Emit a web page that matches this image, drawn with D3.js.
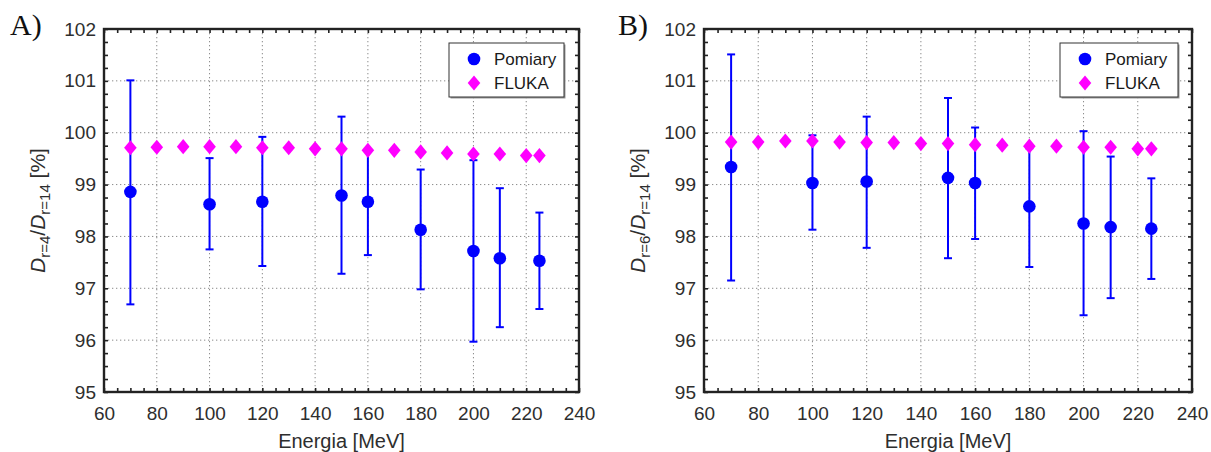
<!DOCTYPE html>
<html>
<head>
<meta charset="utf-8">
<script src="https://cdn.jsdelivr.net/npm/d3@7/dist/d3.min.js"></script>
<style>
  html, body { margin: 0; padding: 0; background: #fff; }
  svg { display: block; }
</style>
</head>
<body>
<svg id="chart" width="1211" height="452"></svg>
<script>
// ---------- data ----------
const energyMeas = [70, 100, 120, 150, 160, 180, 200, 210, 225];
const energyFluka = [70, 80, 90, 100, 110, 120, 130, 140, 150, 160, 170, 180, 190, 200, 210, 220, 225];

const measA    = [98.86, 98.62, 98.67, 98.79, 98.67, 98.13, 97.72, 97.58, 97.53];
const errLowA  = [96.69, 97.75, 97.43, 97.28, 97.64, 96.98, 95.97, 96.25, 96.60];
const errHighA = [101.01, 99.51, 99.92, 100.31, 99.66, 99.29, 99.47, 98.93, 98.46];
const flukaA   = [99.71, 99.72, 99.73, 99.73, 99.73, 99.71, 99.71, 99.69, 99.69, 99.66, 99.66, 99.63, 99.61, 99.59, 99.59, 99.56, 99.56];

const measB    = [99.34, 99.03, 99.06, 99.13, 99.03, 98.58, 98.25, 98.18, 98.15];
const errLowB  = [97.15, 98.13, 97.78, 97.58, 97.95, 97.41, 96.48, 96.81, 97.18];
const errHighB = [101.51, 99.95, 100.31, 100.67, 100.10, 99.70, 100.03, 99.54, 99.12];
const flukaB   = [99.82, 99.82, 99.84, 99.84, 99.82, 99.81, 99.81, 99.79, 99.79, 99.77, 99.76, 99.74, 99.74, 99.72, 99.72, 99.69, 99.69];

const xTicks = [60, 80, 100, 120, 140, 160, 180, 200, 220, 240];
const yTicks = [95, 96, 97, 98, 99, 100, 101, 102];
const legendLabels = ["Pomiary", "FLUKA"];
const xLabel = "Energia [MeV]";

// ---------- drawing ----------
const svg = d3.select("#chart");
const BLUE = "#0000ff", MAG = "#ff00ff";
const SANS = "'Liberation Sans', Arial, sans-serif";

function drawPanel(p) {
  const x = d3.scaleLinear().domain([60, 240]).range([p.left, p.right]);
  const y = d3.scaleLinear().domain([95, 102]).range([p.bottom, p.top]);
  const g = svg.append("g").style("font-family", SANS);

  // grid
  g.append("g").selectAll("line").data(xTicks.slice(1, -1)).join("line")
    .attr("x1", d => x(d)).attr("x2", d => x(d))
    .attr("y1", p.top).attr("y2", p.bottom)
    .attr("stroke", "#8a8a8a").attr("stroke-width", 1).attr("stroke-dasharray", "1.3,2.7");
  g.append("g").selectAll("line").data(yTicks.slice(1, -1)).join("line")
    .attr("x1", p.left).attr("x2", p.right)
    .attr("y1", d => y(d)).attr("y2", d => y(d))
    .attr("stroke", "#8a8a8a").attr("stroke-width", 1).attr("stroke-dasharray", "1.3,2.7");

  // minor ticks (inward) on all four sides
  const xMinor = d3.range(60, 240.1, 5);
  const yMinor = d3.range(95, 102.01, 0.25);
  const tk = g.append("g");
  tk.append("g").attr("transform", `translate(0,${p.bottom})`)
    .call(d3.axisBottom(x).tickValues(xMinor).tickSize(-4).tickFormat(""));
  tk.append("g").attr("transform", `translate(0,${p.top})`)
    .call(d3.axisTop(x).tickValues(xMinor).tickSize(-4).tickFormat(""));
  tk.append("g").attr("transform", `translate(${p.left},0)`)
    .call(d3.axisLeft(y).tickValues(yMinor).tickSize(-4).tickFormat(""));
  tk.append("g").attr("transform", `translate(${p.right},0)`)
    .call(d3.axisRight(y).tickValues(yMinor).tickSize(-4).tickFormat(""));
  tk.selectAll(".domain").remove();
  tk.selectAll("line").attr("stroke", "#222").attr("stroke-width", 1.6);

  // tick labels via axes
  const lx = g.append("g").attr("transform", `translate(0,${p.bottom})`)
    .call(d3.axisBottom(x).tickValues(xTicks).tickSize(0).tickPadding(12).tickFormat(d3.format("d")));
  const ly = g.append("g").attr("transform", `translate(${p.left},0)`)
    .call(d3.axisLeft(y).tickValues(yTicks).tickSize(0).tickPadding(8).tickFormat(d3.format("d")));
  [lx, ly].forEach(a => {
    a.select(".domain").remove();
    a.attr("font-family", null).attr("font-size", null);
    a.selectAll("text").style("font-size", "19px").style("fill", "#2e2e2e")
      .style("font-family", SANS);
  });
  lx.selectAll("text").attr("dy", "0.85em");

  // frame
  g.append("rect").attr("x", p.left).attr("y", p.top)
    .attr("width", p.right - p.left).attr("height", p.bottom - p.top)
    .attr("fill", "none").attr("stroke", "#222").attr("stroke-width", 2.4);

  // error bars
  const eb = g.append("g").attr("stroke", BLUE).attr("stroke-width", 2);
  energyMeas.forEach((e, i) => {
    const cx = x(e);
    eb.append("line").attr("x1", cx).attr("x2", cx).attr("y1", y(p.lo[i])).attr("y2", y(p.hi[i]));
    eb.append("line").attr("x1", cx - 4).attr("x2", cx + 4).attr("y1", y(p.lo[i])).attr("y2", y(p.lo[i]));
    eb.append("line").attr("x1", cx - 4).attr("x2", cx + 4).attr("y1", y(p.hi[i])).attr("y2", y(p.hi[i]));
  });
  g.append("g").selectAll("circle").data(energyMeas).join("circle")
    .attr("cx", d => x(d)).attr("cy", (d, i) => y(p.meas[i])).attr("r", 6.3)
    .attr("fill", BLUE);

  const diamond = "M0,-7.6L6.3,0L0,7.6L-6.3,0Z";
  g.append("g").selectAll("path").data(energyFluka).join("path")
    .attr("d", diamond)
    .attr("transform", (d, i) => `translate(${x(d)},${y(p.fluka[i])})`)
    .attr("fill", MAG);

  // legend
  const L = p.legend;
  g.append("rect").attr("x", L.x + 1.5).attr("y", L.y + 1.5).attr("width", L.w).attr("height", L.h)
    .attr("fill", "#9a9a9a");
  g.append("rect").attr("x", L.x).attr("y", L.y).attr("width", L.w).attr("height", L.h)
    .attr("fill", "#fff").attr("stroke", "#333").attr("stroke-width", 1);
  g.append("circle").attr("cx", L.x + 25).attr("cy", L.y + 16).attr("r", 6.3).attr("fill", BLUE);
  g.append("path").attr("d", diamond).attr("transform", `translate(${L.x + 25},${L.y + 40})`).attr("fill", MAG);
  legendLabels.forEach((t, i) => {
    g.append("text").attr("x", L.x + 45).attr("y", L.y + 16 + i * 24).attr("dy", "0.36em")
      .style("font-size", "17px").style("fill", "#1a1a1a").text(t);
  });

  // axis titles
  g.append("text").attr("x", (p.left + p.right) / 2).attr("y", 448)
    .attr("text-anchor", "middle").style("font-size", "20px").style("fill", "#2e2e2e").text(xLabel);

  const yl = g.append("text")
    .attr("transform", `translate(${p.yLabelX},${(p.top + p.bottom) / 2}) rotate(-90)`)
    .attr("text-anchor", "middle").style("font-size", "21px").style("fill", "#2e2e2e");
  yl.append("tspan").style("font-style", "italic").text("D");
  yl.append("tspan").style("font-size", "15px").attr("dy", 5).text(p.sub);
  yl.append("tspan").attr("dy", -5).text("/");
  yl.append("tspan").style("font-style", "italic").text("D");
  yl.append("tspan").style("font-size", "15px").attr("dy", 5).text("r=14");
  yl.append("tspan").attr("dy", -5).text(" [%]");

  // panel letter
  svg.append("text").attr("x", p.letterX).attr("y", 35)
    .style("font-family", "'Liberation Serif', 'Times New Roman', serif")
    .style("font-size", "30px").style("fill", "#111").text(p.letter);
}

drawPanel({
  left: 104, right: 579, top: 29, bottom: 392,
  meas: measA, lo: errLowA, hi: errHighA, fluka: flukaA,
  legend: { x: 449, y: 43, w: 115, h: 54 },
  yLabelX: 45, sub: "r=4", letter: "A)", letterX: 10
});
drawPanel({
  left: 704, right: 1192, top: 29, bottom: 392,
  meas: measB, lo: errLowB, hi: errHighB, fluka: flukaB,
  legend: { x: 1060, y: 43, w: 118, h: 54 },
  yLabelX: 645, sub: "r=6", letter: "B)", letterX: 618
});
</script>
</body>
</html>
